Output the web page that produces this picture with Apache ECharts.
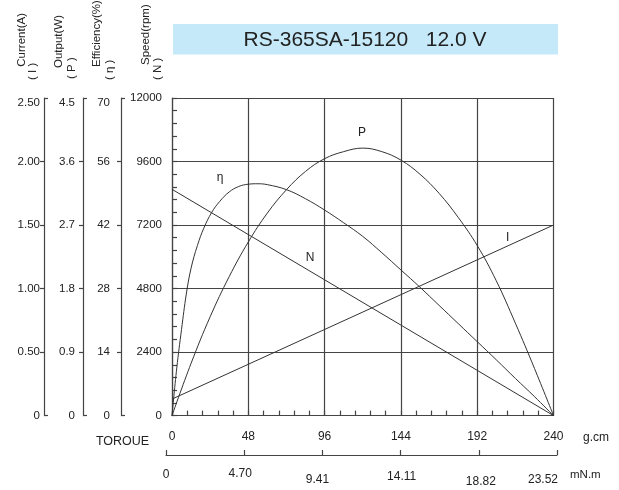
<!DOCTYPE html>
<html><head><meta charset="utf-8">
<script src="https://cdn.jsdelivr.net/npm/echarts@6/dist/echarts.min.js"></script>
<style>html,body{margin:0;padding:0;background:#fff}#c{width:619px;height:490px}</style>
</head><body><div id="c"></div>
<script>
// ---- tick labels ----
const gcmTicks = [0, 48, 96, 144, 192, 240];
const mnmLabels = ['0', '4.70', '9.41', '14.11', '18.82', '23.52'];
const currentLabels = ['0', '0.50', '1.00', '1.50', '2.00', '2.50'];
const outputLabels = ['0', '0.9', '1.8', '2.7', '3.6', '4.5'];
const effLabels = ['0', '14', '28', '42', '56', '70'];
const speedLabels = ['0', '2400', '4800', '7200', '9600', '12000'];

// ---- series values (torque in g.cm) ----
const speedTorque = [0, 240];
const speedValues = [8550, 0];                 // rpm
const currentTorque = [0, 240];
const currentValues = [0.13, 1.50];            // A
const outputTorque = [0, 12, 24, 36, 48, 60, 72, 84, 96, 108, 120, 132, 144, 156, 168, 180, 192, 204, 216, 228, 240];
const outputValues = [0, 0.74, 1.40, 1.97, 2.46, 2.87, 3.20, 3.46, 3.64, 3.74, 3.79, 3.74, 3.62, 3.42, 3.15, 2.81, 2.41, 1.91, 1.31, 0.67, 0]; // W
const effTorque = [0, 3, 6, 9, 12, 16, 20, 25, 30, 36, 42, 48, 54, 60, 72, 84, 96, 108, 120, 132, 144, 156, 168, 180, 192, 204, 216, 228, 240];
const effValues = [0, 10.5, 19, 26.8, 32.5, 37.5, 41.3, 44.8, 47.2, 49.3, 50.5, 51.0, 51.1, 50.9, 49.8, 47.8, 45.3, 42.5, 39.5, 35.9, 32.1, 28.3, 24.3, 20.3, 16.3, 12.3, 8.2, 4.2, 0]; // %

const FONT = '"Liberation Sans", Arial, sans-serif';
const TC = '#222';
const LC = '#444';

function pairs(xs, ys) { return xs.map((x, i) => [x, ys[i]]); }

function scaleAxis(max, labels, offset, margin) {
  const step = max / 5;
  return {
    type: 'value', gridIndex: 0, position: 'left', offset: offset,
    min: 0, max: max, interval: step,
    axisLine: { show: true, lineStyle: { color: LC, width: 1.2 } },
    axisTick: { show: false },
    splitLine: { show: false },
    axisLabel: {
      margin: margin, color: TC, fontSize: 11.5, fontFamily: FONT,
      showMinLabel: true, showMaxLabel: true,
      formatter: function (v) {
        const i = Math.round(v / step);
        return i === 5 ? '{t|' + labels[i] + '}' : labels[i];
      },
      rich: { t: { padding: [10, 0, 0, 0], fontSize: 11.5, fontFamily: FONT, color: TC } }
    }
  };
}
function tickAxis(offset, inside, fn) {
  return {
    type: 'category', gridIndex: 0, position: 'left', offset: offset,
    boundaryGap: false, data: ['a', 'b', 'c', 'd', 'e', 'f'],
    axisLine: { show: false }, axisLabel: { show: false }, splitLine: { show: false },
    axisTick: { show: true, inside: inside, length: 4, interval: fn, lineStyle: { color: LC, width: 1.2 } }
  };
}
const midFn = (i) => i > 0 && i < 5;
const endFn = (i) => i === 0 || i === 5;

function vtext(txt, x, y) {
  return { type: 'text', x: x, y: y, rotation: Math.PI / 2,
    style: { text: txt, font: '11.5px ' + FONT, fill: TC, textAlign: 'left', textVerticalAlign: 'middle' } };
}

const lineStyle = { color: '#333', width: 1 };
function curveLabel(txt, coord) {
  return { symbol: 'circle', symbolSize: 1, itemStyle: { color: 'rgba(0,0,0,0)' },
    label: { show: true, position: 'inside', formatter: txt, color: TC, fontSize: 12, fontFamily: FONT },
    data: [{ coord: coord }] };
}

const option = {
  animation: false,
  backgroundColor: '#fff',
  grid: [
    { left: 172, top: 98, width: 381.5, height: 317.6, outerBoundsMode: 'none' },
    { left: 166, top: 454, width: 391, height: 1, outerBoundsMode: 'none' }
  ],
  xAxis: [
    {
      type: 'value', gridIndex: 0, min: gcmTicks[0], max: gcmTicks[gcmTicks.length - 1], interval: gcmTicks[1] - gcmTicks[0],
      axisLine: { show: true, lineStyle: { color: LC, width: 1.2 } },
      axisTick: { show: true, inside: true, length: 5, lineStyle: { color: LC, width: 1.2 } },
      minorTick: { show: true, splitNumber: 5, length: 5, lineStyle: { color: LC, width: 1.2 } },
      splitLine: { show: true, lineStyle: { color: LC, width: 1.2 } },
      axisLabel: { margin: 15, color: TC, fontSize: 12, fontFamily: FONT, showMinLabel: true, showMaxLabel: true }
    },
    {
      type: 'value', gridIndex: 1, position: 'bottom', min: 0, max: 23.52, interval: 4.704,
      axisLine: { show: true, lineStyle: { color: LC, width: 1.2 } },
      axisTick: { show: true, inside: true, length: 5, lineStyle: { color: LC, width: 1.2 } },
      splitLine: { show: false },
      axisLabel: {
        margin: 13, color: TC, fontSize: 12, fontFamily: FONT, showMinLabel: true, showMaxLabel: true,
        formatter: function (v) { const i = Math.round(v / 4.704); return '{m' + i + '|' + mnmLabels[i] + '}'; },
        rich: {
          m0: { padding: [1, 0, 0, 0], fontSize: 12, fontFamily: FONT, color: TC },
          m1: { padding: [0, 8, 0, 0], fontSize: 12, fontFamily: FONT, color: TC },
          m2: { padding: [6, 10, 0, 0], fontSize: 12, fontFamily: FONT, color: TC },
          m3: { padding: [3, 0, 0, 2], fontSize: 12, fontFamily: FONT, color: TC },
          m4: { padding: [8, 0, 0, 4], fontSize: 12, fontFamily: FONT, color: TC },
          m5: { padding: [6, 28, 0, 0], fontSize: 12, fontFamily: FONT, color: TC }
        }
      }
    }
  ],
  yAxis: [
    {
      type: 'value', gridIndex: 0, position: 'left', offset: 0, min: 0, max: 12000, interval: 2400,
      axisLine: { show: true, lineStyle: { color: LC, width: 1.2 } },
      axisTick: { show: true, inside: true, length: 5, lineStyle: { color: LC, width: 1.2 } },
      minorTick: { show: true, splitNumber: 5, length: 5, lineStyle: { color: LC, width: 1.2 } },
      splitLine: { show: true, lineStyle: { color: LC, width: 1.2 } },
      axisLabel: { margin: 10, color: TC, fontSize: 11.5, fontFamily: FONT, showMinLabel: true, showMaxLabel: true,
        formatter: (v) => speedLabels[Math.round(v / 2400)] }
    },
    scaleAxis(70, effLabels, 51, 11),
    scaleAxis(4.5, outputLabels, 89, 8),
    scaleAxis(2.5, currentLabels, 128, 4),
    tickAxis(51, false, midFn), tickAxis(51, true, endFn),
    tickAxis(89, false, midFn), tickAxis(89, true, endFn),
    tickAxis(128, false, midFn), tickAxis(128, true, endFn),
    { type: 'value', gridIndex: 1, show: false, min: 0, max: 1 }
  ],
  series: [
    { name: 'N', type: 'line', xAxisIndex: 0, yAxisIndex: 0, data: pairs(speedTorque, speedValues),
      symbol: 'none', lineStyle: lineStyle, markPoint: curveLabel('N', [86.8, 5961]) },
    { name: 'η', type: 'line', xAxisIndex: 0, yAxisIndex: 1, data: pairs(effTorque, effValues),
      symbol: 'none', smooth: 0.4, lineStyle: lineStyle, markPoint: curveLabel('η', [30.2, 52.4]) },
    { name: 'P', type: 'line', xAxisIndex: 0, yAxisIndex: 2, data: pairs(outputTorque, outputValues),
      symbol: 'none', smooth: 0.4, lineStyle: lineStyle, markPoint: curveLabel('P', [119.5, 4.01]) },
    { name: 'I', type: 'line', xAxisIndex: 0, yAxisIndex: 3, data: pairs(currentTorque, currentValues),
      symbol: 'none', lineStyle: lineStyle, markPoint: curveLabel('I', [211.2, 1.40]) }
  ],
  graphic: [
    { type: 'rect', shape: { x: 173, y: 24, width: 385, height: 30.5 }, style: { fill: '#C6E9F9' }, silent: true },
    { type: 'text', x: 365, y: 40, style: { text: 'RS-365SA-15120   12.0 V', font: '21px ' + FONT, fill: TC, textAlign: 'center', textVerticalAlign: 'middle' } },
    vtext('Current(A)', 21.5, 66.7), vtext('( I )', 33, 80),
    vtext('Output(W)', 59, 68), vtext('( P )', 72, 79),
    vtext('Efficiency(%)', 96.5, 67), vtext('( η )', 110, 80),
    vtext('Speed(rpm)', 145.5, 65), vtext('( N )', 157.5, 80),
    { type: 'text', x: 122.5, y: 442, style: { text: 'TOROUE', font: '12.5px ' + FONT, fill: TC, textAlign: 'center', textVerticalAlign: 'middle' } },
    { type: 'text', x: 583, y: 438, style: { text: 'g.cm', font: '12px ' + FONT, fill: TC, textAlign: 'left', textVerticalAlign: 'middle' } },
    { type: 'text', x: 570, y: 475, style: { text: 'mN.m', font: '11.5px ' + FONT, fill: TC, textAlign: 'left', textVerticalAlign: 'middle' } }
  ]
};

const chart = echarts.init(document.getElementById('c'), null, { renderer: 'canvas' });
chart.setOption(option);
</script>
</body></html>
